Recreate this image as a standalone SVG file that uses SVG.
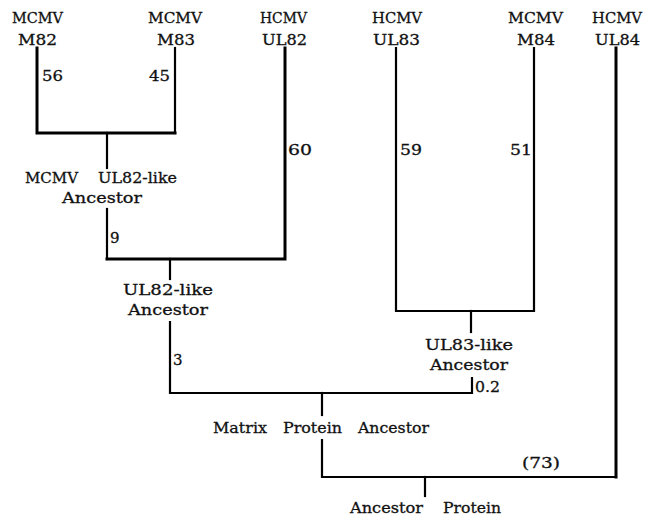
<svg xmlns="http://www.w3.org/2000/svg" width="652" height="519" viewBox="0 0 652 519">
<style>
text{font-family:"DejaVu Serif","Liberation Serif",serif;font-size:15px;fill:#111;stroke:#111;stroke-width:0.3;}
.e{stroke:#000;stroke-width:2.2;fill:none;stroke-linecap:square;}
.t{stroke-width:3;}
</style>
<rect width="652" height="519" fill="#fff"/>
<g id="connectors">
<path class="e t" d="M37,48V133H175"/>
<path class="e" d="M175,48V133"/>
<path class="e" d="M107,133V168"/>
<path class="e" d="M107,209V259"/>
<path class="e t" d="M107,259H285V48"/>
<path class="e" d="M170,259V279"/>
<path class="e" d="M170,322V393H472V378"/>
<path class="e" d="M396,48V311H534V48"/>
<path class="e" d="M471,311V332"/>
<path class="e" d="M322,393V415"/>
<path class="e" d="M322,440V477H616"/>
<path class="e t" d="M616,477V48"/>
<path class="e" d="M425,477V496"/>
</g>
<g id="leaf-m82"><text x="12" y="23" textLength="51" lengthAdjust="spacingAndGlyphs">MCMV</text><text x="18" y="45" textLength="39" lengthAdjust="spacingAndGlyphs">M82</text></g>
<g id="leaf-m83"><text x="148" y="23" textLength="54" lengthAdjust="spacingAndGlyphs">MCMV</text><text x="157" y="45" textLength="38" lengthAdjust="spacingAndGlyphs">M83</text></g>
<g id="leaf-ul82"><text x="260" y="23" textLength="47" lengthAdjust="spacingAndGlyphs">HCMV</text><text x="262" y="45" textLength="45" lengthAdjust="spacingAndGlyphs">UL82</text></g>
<g id="leaf-ul83"><text x="372" y="23" textLength="50" lengthAdjust="spacingAndGlyphs">HCMV</text><text x="373" y="45" textLength="47" lengthAdjust="spacingAndGlyphs">UL83</text></g>
<g id="leaf-m84"><text x="508" y="23" textLength="55" lengthAdjust="spacingAndGlyphs">MCMV</text><text x="517" y="45" textLength="38" lengthAdjust="spacingAndGlyphs">M84</text></g>
<g id="leaf-ul84"><text x="592" y="23" textLength="50" lengthAdjust="spacingAndGlyphs">HCMV</text><text x="595" y="45" textLength="45" lengthAdjust="spacingAndGlyphs">UL84</text></g>
<g id="node-mcmv-ul82-like"><text x="25" y="183" textLength="53" lengthAdjust="spacingAndGlyphs">MCMV</text><text x="98" y="183" textLength="79" lengthAdjust="spacingAndGlyphs">UL82-like</text><text x="62" y="203" textLength="80" lengthAdjust="spacingAndGlyphs">Ancestor</text></g>
<g id="node-ul82-like"><text x="123" y="295" textLength="90" lengthAdjust="spacingAndGlyphs">UL82-like</text><text x="128" y="315" textLength="80" lengthAdjust="spacingAndGlyphs">Ancestor</text></g>
<g id="node-ul83-like"><text x="425" y="350" textLength="88" lengthAdjust="spacingAndGlyphs">UL83-like</text><text x="430" y="370" textLength="78" lengthAdjust="spacingAndGlyphs">Ancestor</text></g>
<g id="node-matrix"><text x="213" y="433" textLength="54" lengthAdjust="spacingAndGlyphs">Matrix</text><text x="283" y="433" textLength="59" lengthAdjust="spacingAndGlyphs">Protein</text><text x="358" y="433" textLength="71" lengthAdjust="spacingAndGlyphs">Ancestor</text></g>
<g id="node-root"><text x="350" y="513" textLength="73" lengthAdjust="spacingAndGlyphs">Ancestor</text><text x="443" y="513" textLength="58" lengthAdjust="spacingAndGlyphs">Protein</text></g>
<g id="labels">
<text x="42" y="81" textLength="21" lengthAdjust="spacingAndGlyphs">56</text>
<text x="149" y="81" textLength="21" lengthAdjust="spacingAndGlyphs">45</text>
<text x="288" y="155" textLength="24" lengthAdjust="spacingAndGlyphs">60</text>
<text x="400" y="155" textLength="22" lengthAdjust="spacingAndGlyphs">59</text>
<text x="510" y="155" textLength="22" lengthAdjust="spacingAndGlyphs">51</text>
<text x="110" y="243">9</text>
<text x="173" y="365">3</text>
<text x="475" y="392" textLength="25" lengthAdjust="spacingAndGlyphs">0.2</text>
<text x="522" y="468" textLength="38" lengthAdjust="spacingAndGlyphs">(73)</text>
</g>
</svg>
